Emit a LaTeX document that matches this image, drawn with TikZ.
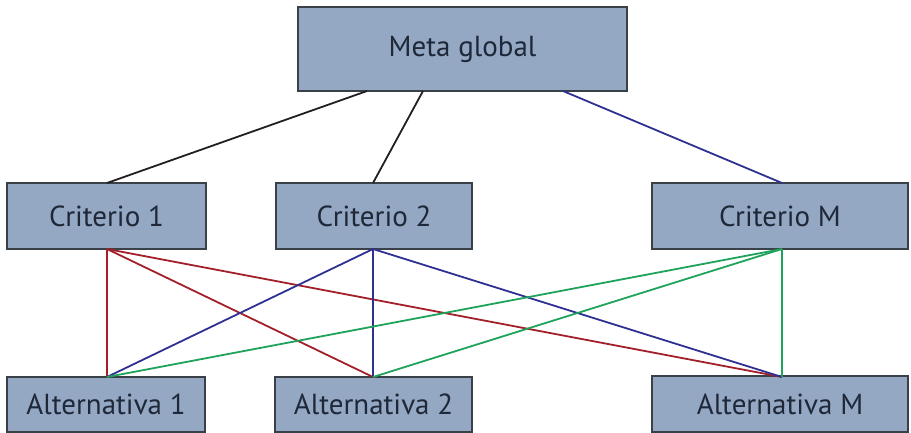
\documentclass[tikz,border=0pt]{standalone}
\usepackage{fontspec}
\setmainfont{PT Sans}
\definecolor{boxfill}{HTML}{94A8C4}
\definecolor{boxline}{HTML}{3A4048}
\definecolor{txt}{HTML}{1E2838}
\definecolor{cred}{HTML}{A3202A}
\definecolor{cblue}{HTML}{2E3192}
\definecolor{cgreen}{HTML}{1FA35A}
\definecolor{cblack}{HTML}{231F20}
\tikzset{
  box/.style={draw=boxline, line width=2pt, fill=boxfill, text=txt, inner sep=0pt,
    font=\fontsize{29}{33}\selectfont},
  lk/.style={line width=1.8pt}
}
\begin{document}
\begin{tikzpicture}[x=1pt,y=-1pt]
\useasboundingbox (0,0) rectangle (911,433);
\node[box, minimum width=329pt, minimum height=84pt] (meta) at (462.5,49) {Meta global};
\node[box, minimum width=199pt, minimum height=66pt] (c1) at (106.5,216) {Criterio 1};
\node[box, minimum width=196pt, minimum height=66pt] (c2) at (374,216) {Criterio 2};
\node[box, minimum width=256pt, minimum height=66pt] (cm) at (780,216) {Criterio M};
\node[box, minimum width=198pt, minimum height=55pt] (a1) at (106,404.5) {Alternativa 1};
\node[box, minimum width=197pt, minimum height=55pt] (a2) at (373.5,404.5) {Alternativa 2};
\node[box, minimum width=256pt, minimum height=56pt] (am) at (780,404) {Alternativa M};
% anchor points
\coordinate (m1) at (367,91);
\coordinate (m2) at (423,91);
\coordinate (m3) at (563,91);
\coordinate (c1t) at (107,183);
\coordinate (c2t) at (373,183);
\coordinate (cmt) at (782,183);
\coordinate (c1b) at (107,249);
\coordinate (c2b) at (373,249);
\coordinate (cmb) at (782,249);
\coordinate (a1t) at (107,377);
\coordinate (a2t) at (373,377);
\coordinate (amt) at (782,377);
\draw[lk, cblack] (m1) -- (c1t);
\draw[lk, cblack] (m2) -- (c2t);
\draw[lk, cblue] (m3) -- (cmt);
\draw[lk, cred] (c1b) -- (a1t);
\draw[lk, cred] (c1b) -- (a2t);
\draw[lk, cred] (c1b) -- (amt);
\draw[lk, cblue] (c2b) -- (a1t);
\draw[lk, cblue] (c2b) -- (a2t);
\draw[lk, cblue] (c2b) -- (amt);
\draw[lk, cgreen] (cmb) -- (a1t);
\draw[lk, cgreen] (cmb) -- (a2t);
\draw[lk, cgreen] (cmb) -- (amt);
\end{tikzpicture}
\end{document}
